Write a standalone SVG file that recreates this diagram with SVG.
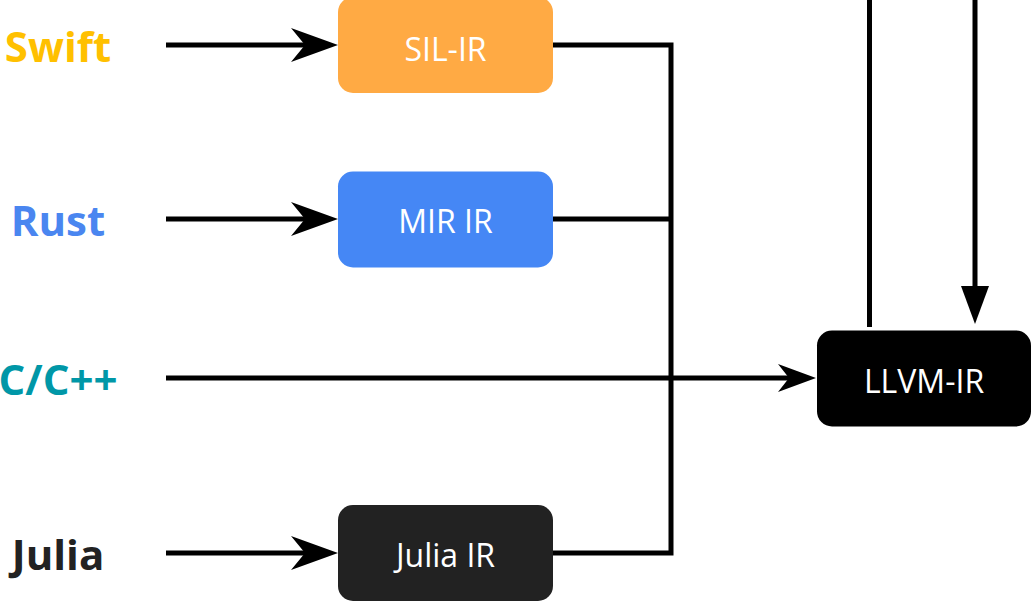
<svg xmlns="http://www.w3.org/2000/svg" width="1032" height="603" viewBox="0 0 1032 603">
  <style>
    .lang { font-family: "Open Sans", "Liberation Sans", sans-serif; font-weight: 700; font-size: 42px; text-anchor: middle; }
    .box-label { font-family: "Open Sans", "Liberation Sans", sans-serif; font-size: 32px; fill: #ffffff; text-anchor: middle; }
    .wire { fill: none; stroke: #000000; stroke-width: 5; stroke-linejoin: miter; stroke-linecap: butt; }
  </style>
  <defs>
    <!-- concave arrowhead, tip at origin pointing right -->
    <path id="head-lg" d="M0,0 L-47,-17 L-33,0 L-47,17 Z" fill="#000000"/>
    <path id="head-sm" d="M0,0 L-38,-14 L-27,0 L-38,14 Z" fill="#000000"/>
  </defs>

  <rect width="1032" height="603" fill="#ffffff"/>

  <!-- source language labels -->
  <g id="lang-swift"><text class="lang" x="58" y="62" fill="#FFC000">Swift</text></g>
  <g id="lang-rust"><text class="lang" x="58" y="236" fill="#4A86F0">Rust</text></g>
  <g id="lang-c"><text class="lang" x="58" y="395" fill="#0097A7">C/C++</text></g>
  <g id="lang-julia"><text class="lang" x="58" y="570" fill="#222222">Julia</text></g>

  <!-- connectors -->
  <g id="connectors">
    <line class="wire" x1="166" y1="45" x2="310" y2="45"/>
    <use href="#head-lg" transform="translate(338,45)"/>
    <line class="wire" x1="166" y1="219" x2="310" y2="219"/>
    <use href="#head-lg" transform="translate(338,219)"/>
    <line class="wire" x1="166" y1="553" x2="310" y2="553"/>
    <use href="#head-lg" transform="translate(338,553)"/>

    <path class="wire" d="M553,45 H671 V553 H553"/>
    <line class="wire" x1="553" y1="219" x2="671" y2="219"/>

    <line class="wire" x1="166" y1="378" x2="792" y2="378"/>
    <use href="#head-sm" transform="translate(816,378)"/>

    <line class="wire" x1="869.5" y1="0" x2="869.5" y2="327"/>
    <line class="wire" x1="975" y1="0" x2="975" y2="290"/>
    <path d="M961,286 L989,286 L975,324 Z" fill="#000000"/>
  </g>

  <!-- IR nodes -->
  <g id="node-sil">
    <rect x="338" y="-3" width="215" height="96" rx="15" fill="#FFAA44"/>
    <text class="box-label" x="445.5" y="61">SIL-IR</text>
  </g>
  <g id="node-mir">
    <rect x="338" y="171.5" width="215" height="96" rx="15" fill="#4587F5"/>
    <text class="box-label" x="445.5" y="233">MIR IR</text>
  </g>
  <g id="node-julia">
    <rect x="338" y="505" width="215" height="96" rx="15" fill="#222222"/>
    <text class="box-label" x="445.5" y="567">Julia IR</text>
  </g>
  <g id="node-llvm">
    <rect x="817" y="330.5" width="214" height="96" rx="15" fill="#000000"/>
    <text class="box-label" x="924" y="393">LLVM-IR</text>
  </g>
</svg>
